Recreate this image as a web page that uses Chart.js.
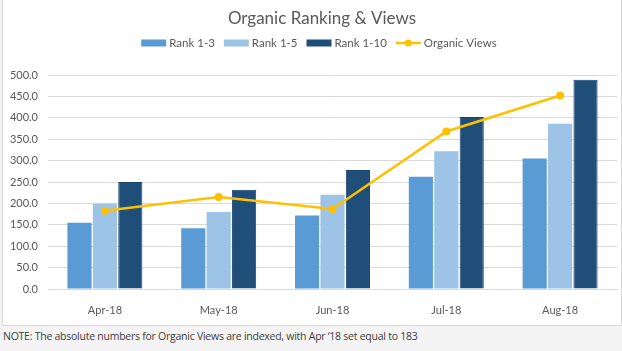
<!DOCTYPE html>
<html><head><meta charset="utf-8">
<script src="https://cdn.jsdelivr.net/npm/chart.js@4/dist/chart.umd.min.js"></script>
<style>
html,body{margin:0;padding:0;background:#f4f4f4;width:622px;height:351px;overflow:hidden;}
#box{position:absolute;left:2px;top:-1px;width:618px;height:325px;background:#fff;border:1px solid #d9d9d9;}
#box canvas{display:block;}
#note{position:absolute;left:3px;top:329px;font:10.5px "Open Sans";letter-spacing:-0.25px;color:#404040;white-space:nowrap;}
</style></head>
<body>
<div id="box"><canvas id="c" width="618" height="325"></canvas></div>
<div id="note">NOTE: The absolute numbers for Organic Views are indexed, with Apr ‘18 set equal to 183</div>
<script>
const categories = ["Apr-18","May-18","Jun-18","Jul-18","Aug-18"];
const rank13 = [155, 142, 172, 262, 305];
const rank15 = [199, 180, 220, 322, 386];
const rank110 = [250, 232, 278, 402, 489];
const organicViews = [183, 215, 187, 368, 452];
const yTicks = [0,50,100,150,200,250,300,350,400,450,500];
const chartTitle = "Organic Ranking & Views";

const FONT = "Lato";
const TXT = "#595959";

const titleLegend = {
  id:'titleLegend',
  afterDraw(chart){
    const ctx = chart.ctx;
    const cx = 316;
    ctx.save();
    ctx.fillStyle = TXT;
    ctx.font = "17px " + FONT;
    ctx.textAlign = "center";
    ctx.textBaseline = "middle";
    ctx.fillText(chartTitle, 319, 19);
    ctx.font = "11.5px " + FONT;
    ctx.textAlign = "left";
    const ds = chart.data.datasets;
    const items = ds.map(d => ({d, w: 25 + 3 + ctx.measureText(d.label).width}));
    const gap = 9;
    let total = items.reduce((s,i)=>s+i.w,0) + gap*(items.length-1);
    let x = cx - total/2;
    const y = 43;
    items.forEach(it => {
      const d = it.d;
      if (d.type === 'line') {
        ctx.strokeStyle = d.borderColor; ctx.lineWidth = 2.5;
        ctx.beginPath(); ctx.moveTo(x, y); ctx.lineTo(x+25, y); ctx.stroke();
        ctx.fillStyle = d.borderColor;
        ctx.beginPath(); ctx.arc(x+12.5, y, 3.5, 0, Math.PI*2); ctx.fill();
      } else {
        ctx.fillStyle = d.backgroundColor;
        ctx.fillRect(x, y-3.5, 25, 7);
      }
      ctx.fillStyle = TXT;
      ctx.fillText(d.label, x+28, y+0.5);
      x += it.w + gap;
    });
    ctx.restore();
  }
};

new Chart(document.getElementById('c'), {
  type: 'bar',
  data: {
    labels: categories,
    datasets: [
      {label:'Rank 1-3', data: rank13, backgroundColor:'#5B9BD5', order:1},
      {label:'Rank 1-5', data: rank15, backgroundColor:'#9DC3E6', order:1},
      {label:'Rank 1-10', data: rank110, backgroundColor:'#1F4E79', borderColor:'#1A4470', borderWidth:1, order:1},
      {type:'line', label:'Organic Views', data: organicViews, borderColor:'#FFC000', backgroundColor:'#FFC000',
       borderWidth:2.5, pointRadius:4, pointBackgroundColor:'#FFC000', pointBorderWidth:0, order:0, tension:0}
    ]
  },
  options: {
    responsive:false, animation:false,
    layout:{padding:{left:3, right:4, top:75, bottom:0}},
    plugins:{legend:{display:false}, title:{display:false}, tooltip:{enabled:false}},
    datasets:{bar:{categoryPercentage:0.67, barPercentage:0.95}},
    scales:{
      x:{
        grid:{display:false},
        border:{color:'#d9d9d9', width:1},
        ticks:{color:TXT, font:{family:FONT, size:11}, padding:7, maxRotation:0},
        afterFit(s){ s.height = 36; }
      },
      y:{
        min:0, max:500,
        afterBuildTicks(s){ s.ticks = yTicks.map(v=>({value:v})); },
        ticks:{color:TXT, font:{family:FONT, size:11}, padding:10, callback:v=>Number(v).toFixed(1)},
        grid:{color:'#d9d9d9', drawTicks:false},
        border:{display:false},
        afterFit(s){ s.width = 42; }
      }
    }
  },
  plugins:[titleLegend]
});
</script>
</body></html>
